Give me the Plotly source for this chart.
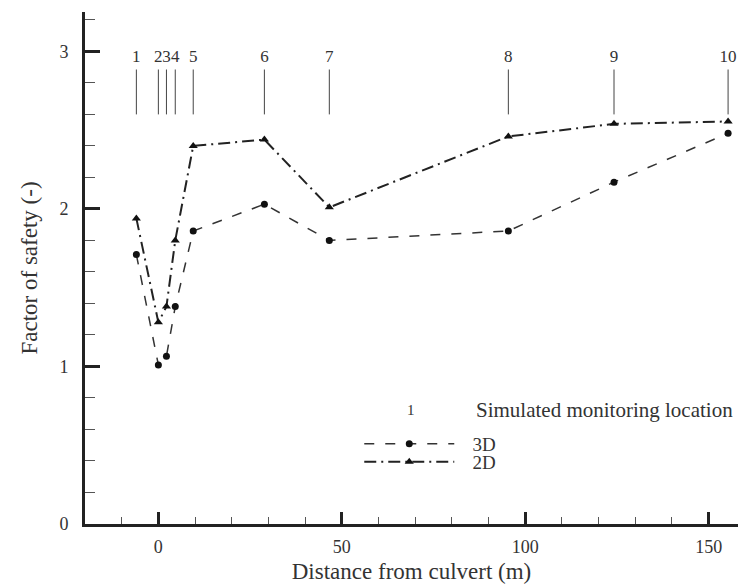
import plotly.graph_objects as go

# Data
loc_labels = ["1", "2", "3", "4", "5", "6", "7", "8", "9", "10"]
loc_x = [-6.0, 0.0, 2.2, 4.6, 9.5, 28.9, 46.6, 95.4, 124.2, 155.3]
fos_3d = [1.71, 1.01, 1.065, 1.38, 1.86, 2.03, 1.80, 1.86, 2.17, 2.48]
fos_2d = [1.94, 1.28, 1.38, 1.80, 2.40, 2.44, 2.01, 2.46, 2.54, 2.555]
loc_line_bottom = 2.60
loc_line_top = 2.885
loc_label_y = 2.96

FONT = "Times New Roman, Liberation Serif, serif"
INK = "#333333"

fig = go.Figure()

# Monitoring location marker lines
lx, ly = [], []
for x in loc_x:
    lx += [x, x, None]
    ly += [loc_line_bottom, loc_line_top, None]
fig.add_trace(go.Scatter(x=lx, y=ly, mode="lines", line=dict(color="#444444", width=1),
                         showlegend=False, hoverinfo="skip"))
fig.add_trace(go.Scatter(x=loc_x, y=[loc_label_y] * len(loc_x), mode="text", text=loc_labels,
                         textfont=dict(family=FONT, size=17, color=INK),
                         showlegend=False, hoverinfo="skip"))

fig.add_trace(go.Scatter(x=loc_x, y=fos_3d, mode="lines+markers", name="\u2002\u20093D",
                         line=dict(color="#333333", width=1.5, dash="10px,11px"),
                         marker=dict(symbol="circle", size=7, color="#111111"),
                         legend="legend"))
fig.add_trace(go.Scatter(x=loc_x, y=fos_2d, mode="lines+markers", name="\u2002\u20092D",
                         line=dict(color="#222222", width=2, dash="12px,5px,2px,5px"),
                         marker=dict(symbol="triangle-up", size=8, color="#111111"),
                         legend="legend2"))

fig.add_annotation(xref="paper", yref="paper", x=0.499, y=0.223, text="1", showarrow=False,
                   font=dict(family=FONT, size=15, color=INK), xanchor="center", yanchor="middle")
fig.add_annotation(xref="paper", yref="paper", x=0.595, y=0.223, text="Simulated monitoring location",
                   showarrow=False, font=dict(family=FONT, size=21, color=INK),
                   xanchor="left", yanchor="middle")

axis_common = dict(
    showline=True, linewidth=3, linecolor="#222222", mirror=False,
    ticks="inside", tickwidth=3, tickcolor="#222222",
    showgrid=False, zeroline=False,
    tickfont=dict(family=FONT, size=18, color=INK),
)

fig.update_xaxes(**axis_common, range=[-20, 158], tickvals=[0, 50, 100, 150], ticklen=12,
                 ticklabelstandoff=4,
                 minor=dict(ticks="inside", ticklen=7, tickwidth=1, tickcolor="#555555", dtick=10, tick0=0),
                 title=dict(text="Distance from culvert (m)", font=dict(family=FONT, size=23, color=INK),
                            standoff=8))
fig.update_yaxes(**axis_common, range=[0, 3.25], tickvals=[0, 1, 2, 3], ticklen=15,
                 ticklabelstandoff=10,
                 minor=dict(ticks="inside", ticklen=10, tickwidth=1, tickcolor="#555555", dtick=0.2, tick0=0),
                 title=dict(text="Factor of safety (-)", font=dict(family=FONT, size=23, color=INK),
                            standoff=16))

leg_common = dict(xanchor="left", yanchor="middle", itemwidth=90,
                  font=dict(family=FONT, size=19, color=INK), bgcolor="rgba(0,0,0,0)",
                  tracegroupgap=0, itemsizing="trace")
fig.update_layout(
    width=738, height=587,
    margin=dict(l=85, r=0, t=12, b=63),
    plot_bgcolor="white", paper_bgcolor="white",
    showlegend=True,
    legend=dict(x=0.42, y=(524 - 444) / 512, **leg_common),
    legend2=dict(x=0.42, y=(524 - 462) / 512, **leg_common),
)

fig.write_html("out.html")
